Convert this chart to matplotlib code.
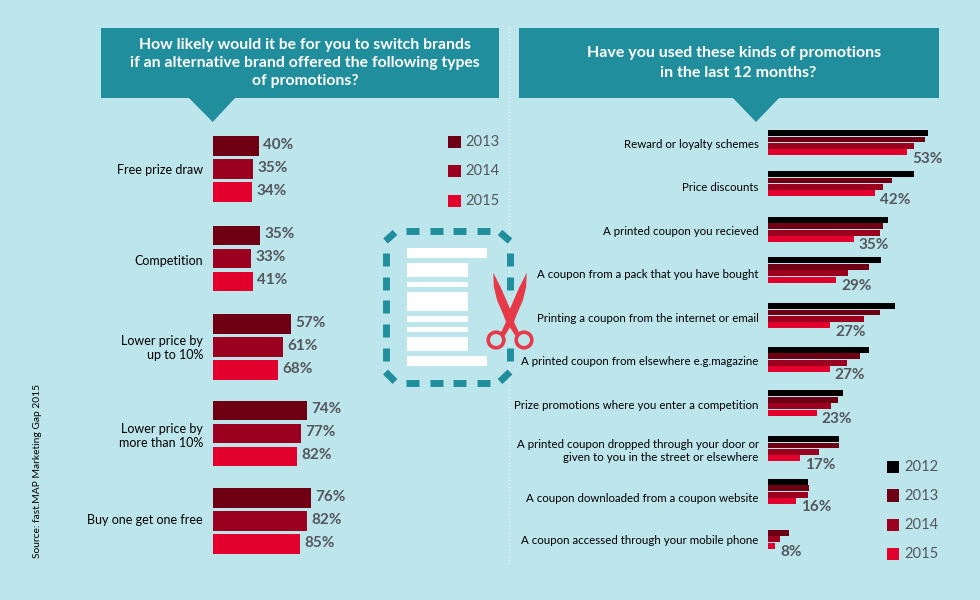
"""Promotions infographic: switching brands vs promotions used, two bar panels."""

import matplotlib
matplotlib.use("Agg")
import matplotlib.pyplot as plt
from matplotlib.patches import Circle, Polygon, Rectangle
import numpy as np

plt.rcParams["font.family"] = ["Lato", "DejaVu Sans"]

BG = "#bde5ec"
TEAL = "#218e9e"
GREY = "#54575c"
C2012 = "#000000"
C2013 = "#6f0014"
C2014 = "#9c001f"
C2015 = "#e2002d"
SCISSORS = "#e63a48"

# Left panel. The printed labels do not agree with the bar lengths in the
# original, so lengths and labels are kept apart.
left_categories = ["Free prize draw", "Competition", "Lower price by\nup to 10%",
                   "Lower price by\nmore than 10%", "Buy one get one free"]
left_2013 = [46, 47, 78, 94, 98]
left_2014 = [40, 38, 70, 88, 94]
left_2015 = [39, 40, 65, 84, 87]
left_labels_2013 = ["40%", "35%", "57%", "74%", "76%"]
left_labels_2014 = ["35%", "33%", "61%", "77%", "82%"]
left_labels_2015 = ["34%", "41%", "68%", "82%", "85%"]

# Right panel
right_categories = [
    "Reward or loyalty schemes",
    "Price discounts",
    "A printed coupon you recieved",
    "A coupon from a pack that you have bought",
    "Printing a coupon from the internet or email",
    "A printed coupon from elsewhere e.g.magazine",
    "Prize promotions where you enter a competition",
    "A printed coupon dropped through your door or\ngiven to you in the street or elsewhere",
    "A coupon downloaded from a coupon website",
    "A coupon accessed through your mobile phone",
]
right_2012 = [160, 145.3, 119.3, 112.3, 127, 101, 75, 70.3, 39.3, np.nan]
right_2013 = [157, 124, 114.7, 100.3, 111.7, 91.7, 69.3, 70.3, 40.7, 20.3]
right_2014 = [146, 114.7, 111.7, 79.3, 96, 78.3, 63, 50.7, 39.3, 11.3]
right_2015 = [138.7, 106.3, 85.3, 68, 61.7, 61.3, 48.3, 31.7, 27.7, 6.7]
right_labels = ["53%", "42%", "35%", "29%", "27%", "27%", "23%", "17%", "16%", "8%"]

left_title = "How likely would it be for you to switch brands\nif an alternative brand offered the following types\nof promotions?"
right_title_lines = ["Have you used these kinds of promotions", "in the last 12 months?"]
source_text = "Source: fast.MAP Marketing Gap 2015"

W, H = 980, 600
fig = plt.figure(figsize=(W / 100, H / 100), dpi=100, facecolor=BG)


def px_axes(x0, y0, x1, y1):
    """Transparent axes whose data units are picture pixels, origin at x0 / top down."""
    ax = fig.add_axes([x0 / W, 1 - y1 / H, (x1 - x0) / W, (y1 - y0) / H])
    ax.set_xlim(0, x1 - x0)
    ax.set_ylim(y1, y0)
    ax.axis("off")
    return ax


# Backdrop: headers, divider, legends, icon
bg = px_axes(0, 0, W, H)
bg.plot([508.5, 508.5], [28, 565], color="#e4f5f7", lw=1, ls=(0, (1, 1.5)))

for x0, x1, tx0, tx1, apex in [(101, 499, 188, 236, 212.7), (519, 939, 732, 780, 756)]:
    bg.add_patch(Rectangle((x0, 28.3), x1 - x0, 69.4, color=TEAL, lw=0))
    bg.add_patch(Polygon([(tx0, 97), (tx1, 97), (apex, 122)], color=TEAL, lw=0))
bg.text(305, 63, left_title, color="white", fontsize=11.35, fontweight="bold",
        ha="center", va="center", linespacing=1.36)
for x, y, line in zip((734.5, 738.5), (53, 73), right_title_lines):
    bg.text(x, y, line, color="white", fontsize=11.5, fontweight="bold", ha="center", va="center")
bg.text(38, 558, source_text, rotation=90, fontsize=7.4, color="black", ha="center", va="bottom")


def legend(x, tops, years, colors):
    for top, year, color in zip(tops, years, colors):
        bg.add_patch(Rectangle((x, top), 12.6, 12.4, color=color, lw=0))
        bg.text(x + 17.5, top + 6.2, year, fontsize=10.6, color=GREY, va="center", ha="left")


legend(448, [135.7, 165, 194.7], ["2013", "2014", "2015"], [C2013, C2014, C2015])
legend(886.7, [461, 489.3, 518.7, 547.7], ["2012", "2013", "2014", "2015"],
       [C2012, C2013, C2014, C2015])

# Coupon icon: dashed outline
dash_lw = 5
for y in (230.5, 383):
    for x in (406, 430, 453, 477):
        bg.plot([x, x + 12.5], [y, y], color=TEAL, lw=dash_lw, solid_capstyle="butt")
for y in (253, 277, 300, 324, 348):
    bg.plot([385.5, 385.5], [y, y + 13], color=TEAL, lw=dash_lw, solid_capstyle="butt")
for y in (253, 277, 348):
    bg.plot([510, 510], [y, y + 13], color=TEAL, lw=dash_lw, solid_capstyle="butt")
for xs, ys in [((385.5, 395), (241, 232.5)), ((500, 510), (232.5, 241)),
               ((385.5, 395), (372, 381.5)), ((500, 510), (381.5, 372))]:
    bg.plot(xs, ys, color=TEAL, lw=dash_lw, solid_capstyle="butt")

# Coupon icon: white text blocks
for y0, y1, x1 in [(248.3, 257.7, 487.3), (263.3, 277.3, 468), (282.3, 286.7, 468),
                   (292, 311, 468), (316, 321.7, 468), (327, 331.7, 468),
                   (336.7, 351, 468), (356.3, 365.7, 487.3)]:
    bg.add_patch(Rectangle((406.7, y0), x1 - 406.7, y1 - y0, color="white", lw=0))

# Scissors
blade = [(493.3, 272.7), (501, 288), (507.5, 303), (513.5, 316.7), (513.5, 322), (504.5, 336),
         (500, 334.5), (506, 322), (503.5, 315), (497, 300), (493.8, 286.7)]
bg.add_patch(Polygon(blade, color=SCISSORS, lw=0, zorder=4))
bg.add_patch(Polygon([(1020 - x, y) for x, y in blade], color=SCISSORS, lw=0, zorder=4))
for cx in (496, 524):
    bg.add_patch(Circle((cx, 340), 7.8, fc="none", ec=SCISSORS, lw=2.6, zorder=4))

# Left panel bars
left_tops = [136, 225.5, 314, 400.7, 488]
left_text_y = [170, 261, 348, 436, 520]
ax_left = px_axes(213, 125, 363, 565)
left_series = [(left_2013, left_labels_2013, C2013),
               (left_2014, left_labels_2014, C2014),
               (left_2015, left_labels_2015, C2015)]
for s, (lengths, labels, color) in enumerate(left_series):
    ys = [t + s * 23 + 9.9 for t in left_tops]
    ax_left.barh(ys, lengths, height=19.7, color=color, lw=0)
    for y, length, label in zip(ys, lengths, labels):
        ax_left.text(length + 4, y - 1.3, label, fontsize=11, fontweight="bold",
                     color=GREY, ha="left", va="center")
for y, cat in zip(left_text_y, left_categories):
    ax_left.text(-10, y, cat, fontsize=9, color="black", ha="right", va="center",
                 linespacing=1.2)

# Right panel bars
right_tops = [130, 171, 216.7, 257.3, 303, 346.7, 390.3, 436, 478.7, 523.3]
right_text_y = [144, 187, 231, 274, 318, 361, 405, 451, 498, 540]
ax_right = px_axes(768.3, 125, 968, 565)
right_series = [(right_2012, C2012), (right_2013, C2013), (right_2014, C2014), (right_2015, C2015)]
for s, (lengths, color) in enumerate(right_series):
    ys = [t + s * 6.45 + 3 for t in right_tops]
    ax_right.barh(ys, np.nan_to_num(lengths), height=5.9, color=color, lw=0)
for top, length, label in zip(right_tops, right_2015, right_labels):
    ax_right.text(length + 5, top + 28.5, label, fontsize=11, fontweight="bold",
                  color=GREY, ha="left", va="center")
for y, cat in zip(right_text_y, right_categories):
    ax_right.text(-9.5, y, cat, fontsize=8.3, color="black", ha="right", va="center",
                  linespacing=1.25)

fig.savefig("out.png", dpi=100, facecolor=BG)
